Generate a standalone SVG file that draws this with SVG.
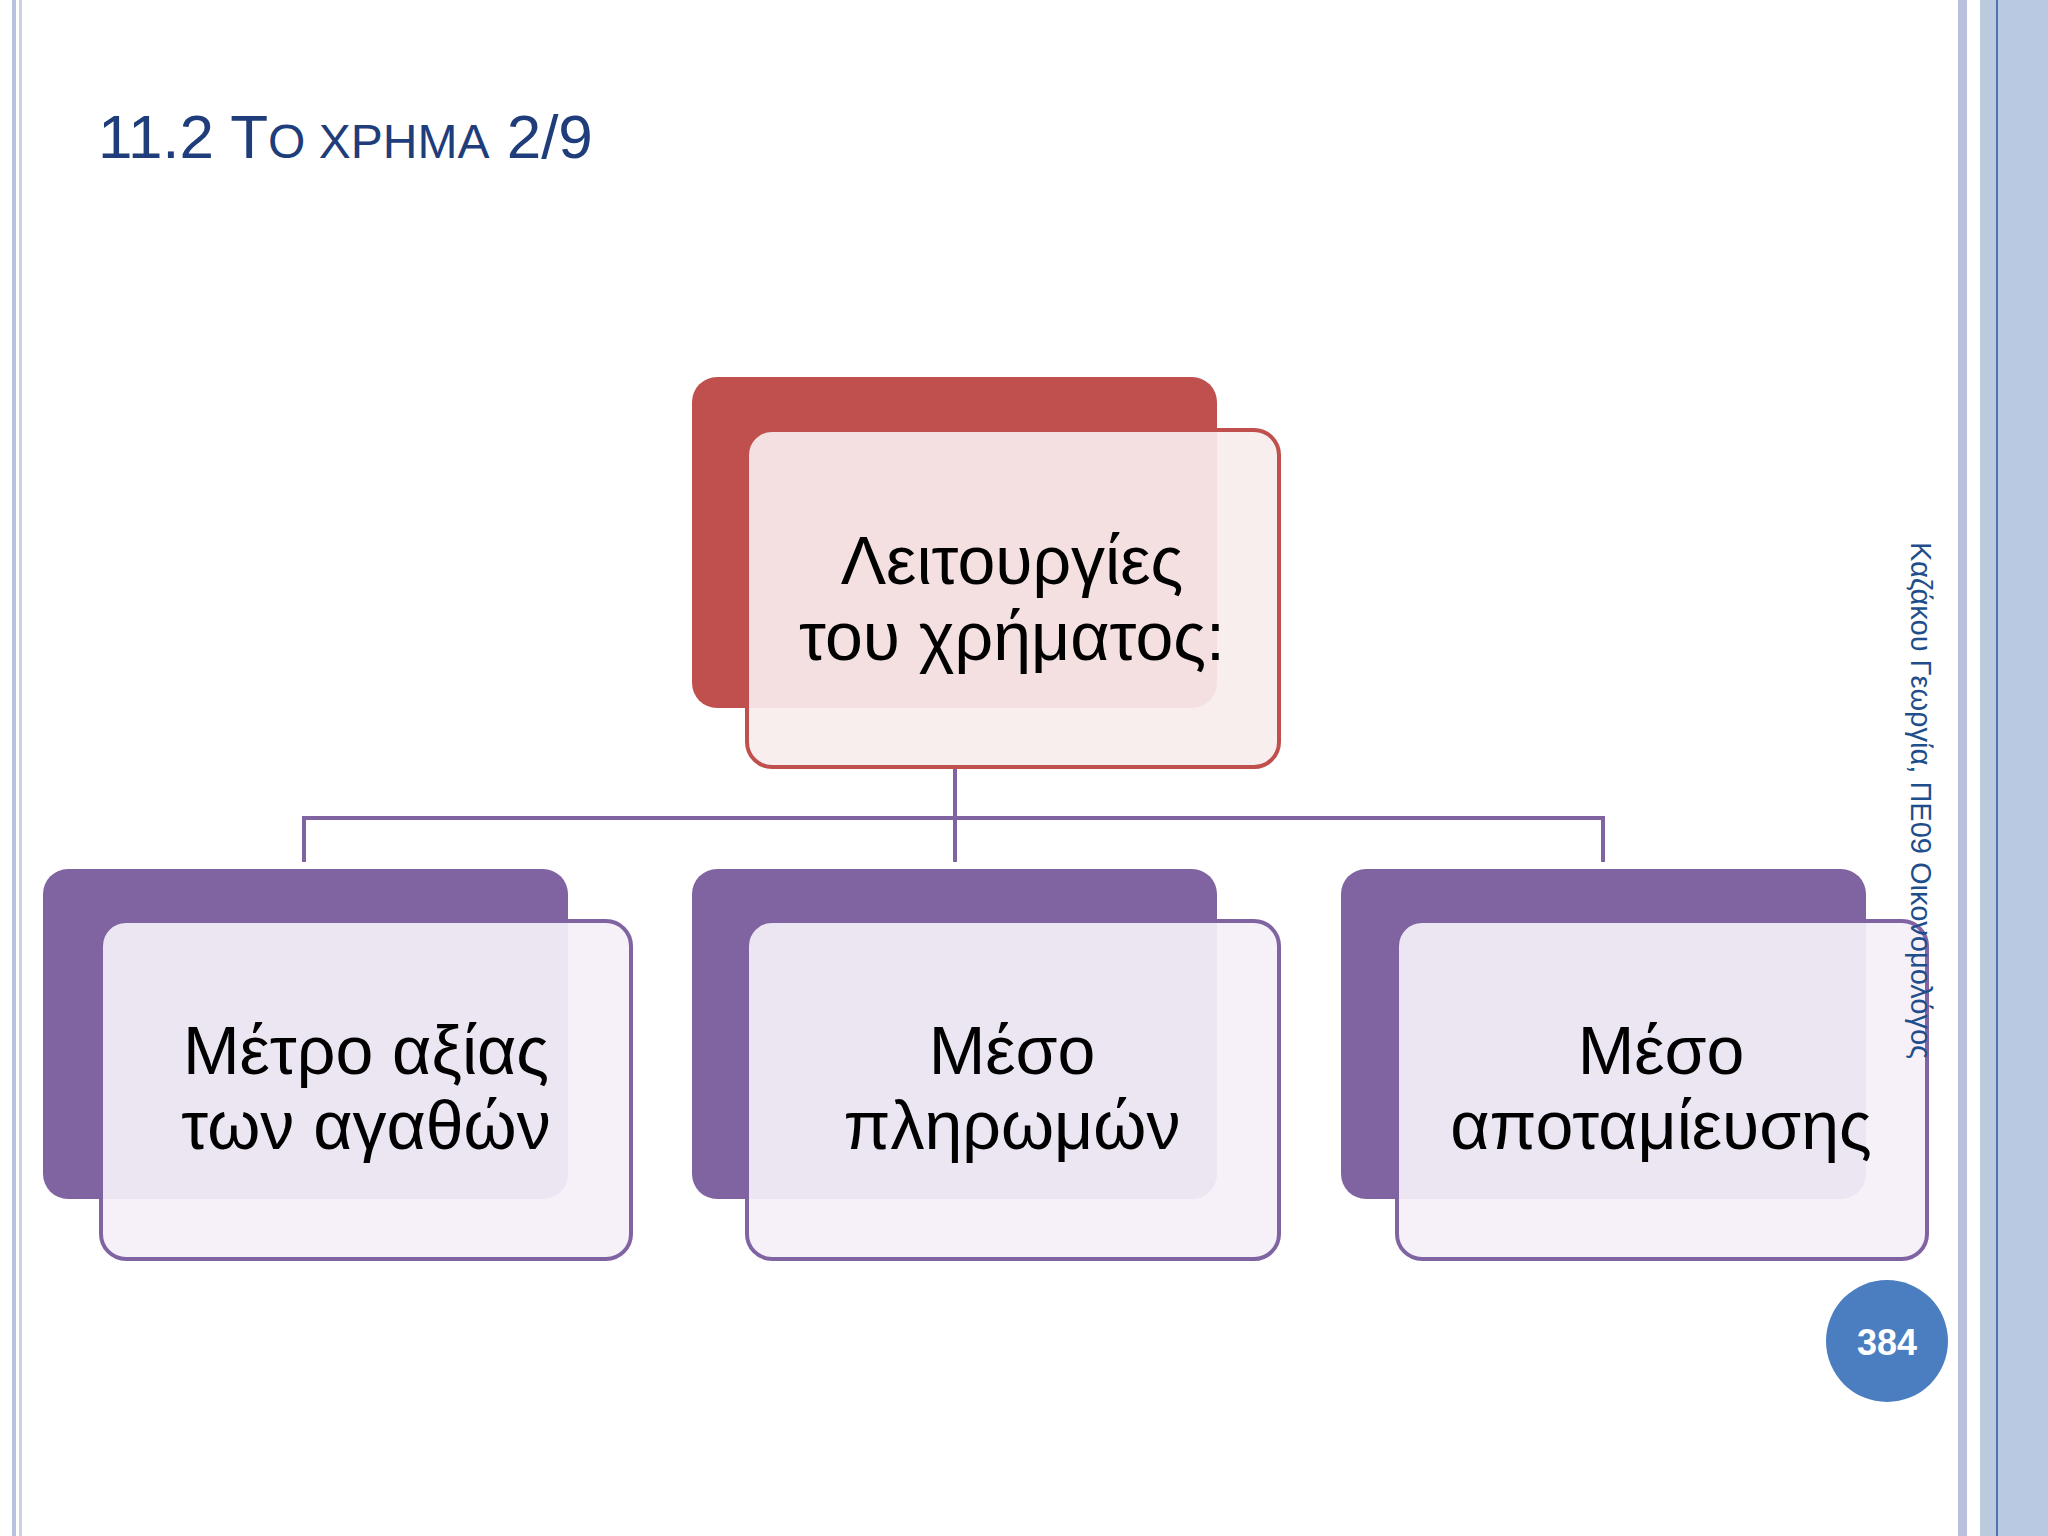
<svg xmlns="http://www.w3.org/2000/svg" width="2048" height="1536" viewBox="0 0 2048 1536">
<style>
.t{font-family:"Liberation Sans",Arial,sans-serif;font-size:68px;fill:#000;text-anchor:middle}
.pb{fill:#8064A2}.pf{fill:#F5F0F8;fill-opacity:.92;stroke:#8064A2;stroke-width:4}
.c{stroke:#8064A2;stroke-width:4;fill:none}
</style>
<rect width="2048" height="1536" fill="#fff"/>
<rect x="12" y="0" width="4" height="1536" fill="#B8C2DF"/>
<rect x="19" y="0" width="3" height="1536" fill="#C9D0E8"/>
<rect x="1958" y="0" width="9" height="1536" fill="#B9C0DE"/>
<rect x="1980" y="0" width="16" height="1536" fill="#BBCBDD"/>
<rect x="1996" y="0" width="2" height="1536" fill="#4F73B0"/>
<rect x="1998" y="0" width="50" height="1536" fill="#B9C9E2"/>
<text x="98" y="158" font-family="Liberation Sans,Arial,sans-serif" font-size="62" fill="#1F3D7A">11.2 T<tspan font-size="48">Ο ΧΡΗΜΑ</tspan> 2/9</text>
<g id="connectors">
<path class="c" d="M955 767V862M304 862V818H1603V862"/>
</g>
<g id="top">
<rect x="692" y="377" width="525" height="331" rx="25" fill="#C0504D"/>
<rect x="747" y="430" width="532" height="337" rx="25" fill="#F9EDED" fill-opacity=".92" stroke="#C0504D" stroke-width="4"/>
<text class="t" x="1012" y="584">Λειτουργίες</text><text class="t" x="1012" y="660">του χρήματος:</text>
</g>
<g id="n1">
<rect class="pb" x="43" y="869" width="525" height="330" rx="25"/>
<rect class="pf" x="101" y="921" width="530" height="338" rx="25"/>
<text class="t" x="366" y="1074">Μέτρο αξίας</text><text class="t" x="366" y="1149">των αγαθών</text>
</g>
<g id="n2">
<rect class="pb" x="692" y="869" width="525" height="330" rx="25"/>
<rect class="pf" x="747" y="921" width="532" height="338" rx="25"/>
<text class="t" x="1012" y="1074">Μέσο</text><text class="t" x="1012" y="1149">πληρωμών</text>
</g>
<g id="n3">
<rect class="pb" x="1341" y="869" width="525" height="330" rx="25"/>
<rect class="pf" x="1397" y="921" width="530" height="338" rx="25"/>
<text class="t" x="1661" y="1074">Μέσο</text><text class="t" x="1661" y="1149">αποταμίευσης</text>
</g>
<text transform="translate(1911,542) rotate(90)" font-family="Liberation Sans,Arial,sans-serif" font-size="29" fill="#1F4E8C">Καζάκου Γεωργία, ΠΕ09 Οικονομολόγος</text>
<g id="page">
<circle cx="1887" cy="1341" r="61" fill="#4A7EC0"/>
<text x="1887" y="1355" font-family="Liberation Sans,Arial,sans-serif" font-size="36" font-weight="bold" fill="#fff" text-anchor="middle">384</text>
</g>
</svg>
